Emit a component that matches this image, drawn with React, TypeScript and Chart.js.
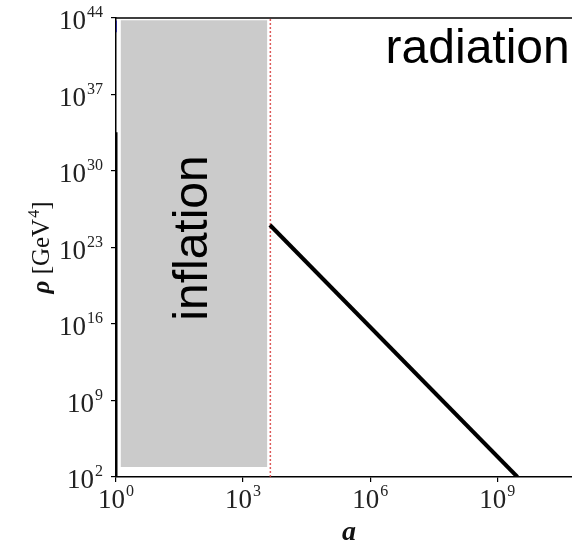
import React, { useEffect, useRef } from 'react';
import { Chart, registerables } from 'chart.js';

Chart.register(...registerables);

// ---- axis ranges & ticks (log10 exponents) ----
const xMin = 1;
const xMax = 1e11;
const yMin = 1e2;
const yMax = 1e44;
const xTickExponents = [0, 3, 6, 9];
const yTickExponents = [2, 9, 16, 23, 30, 37, 44];

// ---- radiation era: rho ∝ a^-4 ----
const radiationA = [4.3e3, 3.0e9];
const radiationRho = [1.15e25, 1e2];

// ---- trace at a = 1 ----
const earlyA = [1, 1];
const earlyRho = [3.6e33, 1e2];

// ---- small inflaton trace near the top ----
const inflatonA = [1, 1];
const inflatonRho = [6e43, 5e42];

// ---- shaded inflation period ----
const bandA = [1.28, 3.74e3];
const bandRhoTop = 6.3e43;
const bandRhoBottom = 8.1e2;

// ---- end of inflation marker ----
const endA = [4.4e3, 4.4e3];
const endRho = [1e2, 1e44];

// ---- text annotations (data coordinates) ----
const inflationLabel = { text: 'inflation', a: Math.pow(10, 2.146), rho: Math.pow(10, 23.87) };
const radiationLabel = { text: 'radiation', a: Math.pow(10, 10.71), rho: Math.pow(10, 39.88) };
const xTitle = 'a';
const yTitleParts = { sym: 'ρ', unitA: ' [GeV', unitExp: '4', unitB: ']' };

const toPts = (xs: number[], ys: number[]) => xs.map((x, i) => ({ x, y: ys[i] }));

const SERIF = '"Liberation Serif", "DejaVu Serif", serif';
const SANS = '"Liberation Sans", Arial, sans-serif';

const extrasPlugin = {
  id: 'extras',
  afterDatasetsDraw(chart: any) {
    const { ctx, scales } = chart;
    const xs = scales.x;
    const ys = scales.y;
    ctx.save();
    ctx.fillStyle = '#000';
    ctx.font = `48px ${SANS}`;
    // inflation (rotated)
    const ix = xs.getPixelForValue(inflationLabel.a);
    const iy = ys.getPixelForValue(inflationLabel.rho);
    ctx.save();
    ctx.translate(ix, iy);
    ctx.rotate(-Math.PI / 2);
    ctx.textAlign = 'center';
    ctx.textBaseline = 'alphabetic';
    ctx.fillText(inflationLabel.text, 0, 0);
    ctx.restore();
    // radiation
    const rx = xs.getPixelForValue(radiationLabel.a);
    const ry = ys.getPixelForValue(radiationLabel.rho);
    ctx.textAlign = 'right';
    ctx.textBaseline = 'alphabetic';
    ctx.fillText(radiationLabel.text, rx, ry);
    ctx.restore();
  },
  afterDraw(chart: any) {
    const { ctx, chartArea, scales } = chart;
    const xs = scales.x;
    const ys = scales.y;
    ctx.save();
    // top & right spines
    ctx.strokeStyle = '#000';
    ctx.lineWidth = 1.5;
    ctx.beginPath();
    ctx.moveTo(chartArea.left, chartArea.top);
    ctx.lineTo(chartArea.right, chartArea.top);
    ctx.lineTo(chartArea.right, chartArea.bottom);
    ctx.stroke();

    const baseFont = `27px ${SERIF}`;
    const expFont = `16px ${SERIF}`;
    ctx.fillStyle = '#222';
    ctx.textAlign = 'left';
    ctx.textBaseline = 'alphabetic';
    const measure = (e: string) => {
      ctx.font = baseFont;
      const w1 = ctx.measureText('10').width;
      ctx.font = expFont;
      const w2 = ctx.measureText(e).width;
      return { w1, w2, w: w1 + 1 + w2 };
    };
    const drawPow = (e: string, sx: number, base: number, expBase: number) => {
      const m = measure(e);
      ctx.font = baseFont;
      ctx.fillText('10', sx, base);
      ctx.font = expFont;
      ctx.fillText(e, sx + m.w1 + 1, expBase);
    };
    // y tick labels
    yTickExponents.forEach((e) => {
      const py = ys.getPixelForValue(Math.pow(10, e));
      const m = measure(String(e));
      drawPow(String(e), chartArea.left - 13 - m.w, py + 11, py - 1);
    });
    // x tick labels
    xTickExponents.forEach((e) => {
      const px = xs.getPixelForValue(Math.pow(10, e));
      const m = measure(String(e));
      drawPow(String(e), px - m.w / 2, chartArea.bottom + 31, chartArea.bottom + 19);
    });

    // x title
    ctx.fillStyle = '#111';
    ctx.font = `italic bold 28px ${SERIF}`;
    ctx.textAlign = 'center';
    ctx.fillText(xTitle, (chartArea.left + chartArea.right) / 2, chartArea.bottom + 63);

    // y title (rotated, mixed fonts)
    const f1 = `italic bold 25px ${SERIF}`;
    const f2 = `25px ${SERIF}`;
    const f3 = `16px ${SERIF}`;
    ctx.textAlign = 'left';
    ctx.font = f1; const a = ctx.measureText(yTitleParts.sym).width;
    ctx.font = f2; const b = ctx.measureText(yTitleParts.unitA).width;
    ctx.font = f3; const c = ctx.measureText(yTitleParts.unitExp).width;
    ctx.font = f2; const d = ctx.measureText(yTitleParts.unitB).width;
    const total = a + b + c + d + 1;
    ctx.save();
    ctx.translate(49, (chartArea.top + chartArea.bottom) / 2);
    ctx.rotate(-Math.PI / 2);
    let cx = -total / 2;
    ctx.font = f1; ctx.fillText(yTitleParts.sym, cx, 0); cx += a;
    ctx.font = f2; ctx.fillText(yTitleParts.unitA, cx, 0); cx += b + 1;
    ctx.font = f3; ctx.fillText(yTitleParts.unitExp, cx, -10); cx += c;
    ctx.font = f2; ctx.fillText(yTitleParts.unitB, cx, 0);
    ctx.restore();

    ctx.restore();
  },
};

export default function App() {
  const ref = useRef<HTMLCanvasElement | null>(null);

  useEffect(() => {
    if (!ref.current) return;
    const chart = new Chart(ref.current, {
      type: 'scatter',
      data: {
        datasets: [
          {
            data: [{ x: bandA[0], y: bandRhoTop }, { x: bandA[1], y: bandRhoTop }],
            showLine: true,
            borderWidth: 0,
            borderColor: 'transparent',
            pointRadius: 0,
            order: 5,
          },
          {
            data: [{ x: bandA[0], y: bandRhoBottom }, { x: bandA[1], y: bandRhoBottom }],
            showLine: true,
            borderWidth: 0,
            borderColor: 'transparent',
            backgroundColor: '#cbcbcb',
            fill: 0,
            pointRadius: 0,
            order: 5,
          },
          {
            data: toPts(endA, endRho),
            showLine: true,
            borderColor: 'rgba(214,60,60,0.85)',
            borderWidth: 1.5,
            borderDash: [2, 2],
            pointRadius: 0,
            order: 3,
          },
          {
            data: toPts(inflatonA, inflatonRho),
            showLine: true,
            borderColor: '#2a2a90',
            borderWidth: 2,
            pointRadius: 0,
            order: 2,
          },
          {
            data: toPts(earlyA, earlyRho),
            showLine: true,
            borderColor: '#000',
            borderWidth: 3,
            pointRadius: 0,
            order: 1,
          },
          {
            data: toPts(radiationA, radiationRho),
            showLine: true,
            borderColor: '#000',
            borderWidth: 4,
            pointRadius: 0,
            borderCapStyle: 'butt',
            order: 1,
          },
        ],
      },
      options: {
        animation: false,
        responsive: false,
        devicePixelRatio: 1,
        layout: { padding: { top: 18, right: 18, left: 0, bottom: 0 } },
        plugins: { legend: { display: false }, tooltip: { enabled: false } },
        scales: {
          x: {
            type: 'logarithmic',
            min: xMin,
            max: xMax,
            position: 'bottom',
            afterBuildTicks: (s: any) => {
              s.ticks = xTickExponents.map((e) => ({ value: Math.pow(10, e) }));
            },
            afterFit: (s: any) => {
              s.height = 67;
            },
            ticks: { display: false },
            grid: {
              display: true,
              drawOnChartArea: false,
              drawTicks: true,
              tickLength: 5,
              color: '#000',
              lineWidth: 1.2,
            },
            border: { display: true, color: '#000', width: 1.5 },
          },
          y: {
            type: 'logarithmic',
            min: yMin,
            max: yMax,
            position: 'left',
            afterBuildTicks: (s: any) => {
              s.ticks = yTickExponents.map((e) => ({ value: Math.pow(10, e) }));
            },
            afterFit: (s: any) => {
              s.width = 116;
            },
            ticks: { display: false },
            grid: {
              display: true,
              drawOnChartArea: false,
              drawTicks: true,
              tickLength: 5,
              color: '#000',
              lineWidth: 1.2,
            },
            border: { display: true, color: '#000', width: 1.5 },
          },
        },
      },
      plugins: [extrasPlugin],
    } as any);
    return () => chart.destroy();
  }, []);

  return (
    <div
      style={{
        position: 'fixed',
        left: 0,
        top: 0,
        width: 572,
        height: 544,
        overflow: 'hidden',
        background: '#fff',
      }}
    >
      <canvas ref={ref} width={600} height={544} style={{ display: 'block', width: 600, height: 544 }} />
    </div>
  );
}
